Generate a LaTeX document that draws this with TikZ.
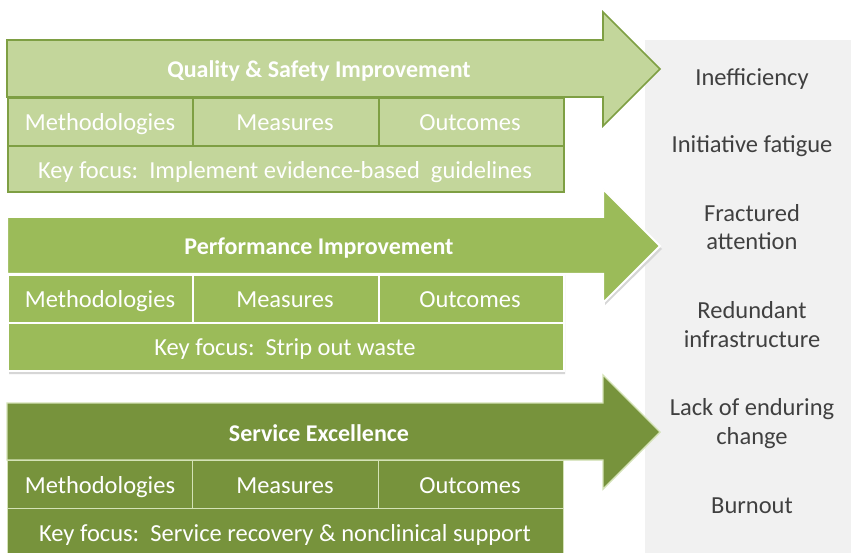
\documentclass[tikz,border=0pt]{standalone}
\usepackage{fontspec}
\setmainfont{Carlito}
\definecolor{gA}{HTML}{C3D69B}
\definecolor{sA}{HTML}{7E9F43}
\definecolor{gB}{HTML}{9BBB59}
\definecolor{gC}{HTML}{77933C}
\definecolor{sC}{HTML}{D4E2B6}
\definecolor{panel}{HTML}{F1F1F1}
\definecolor{dtxt}{HTML}{404040}
\tikzset{
  blkA/.style={fill=gA,draw=sA,line width=1.6pt},
  blkB/.style={fill=gB,draw=white,line width=2pt},
  blkC/.style={fill=gC,draw=sC,line width=1.4pt},
  celltxt/.style={text=white,font=\fontsize{24.5}{28}\selectfont,inner sep=0pt,anchor=base},
  ttl/.style={text=white,font=\bfseries\fontsize{24}{28}\selectfont,inner sep=0pt,anchor=base},
  side/.style={text=dtxt,font=\fontsize{24.5}{28.5}\selectfont,align=center,inner sep=0pt,anchor=base},
  shad/.style={fill=black!16,draw=none}
}
% #1 name, #2 top y, #3 style, #4 title, #5 focus, #6 row3 height
\newcommand\greenblk[6]{%
  \path[#3] (7,#2) -- (603,#2) -- (603,#2+29-57) -- (660,#2+29) -- (603,#2+29+57)
     -- (603,#2+57) -- (7,#2+57) -- cycle;
  \node[ttl] (#1t) at (319,#2+38) {#4};
  \node[#3,anchor=north west,minimum width=185,minimum height=48,inner sep=0pt] (#1m) at (7,#2+57) {};
  \node[#3,anchor=north west,minimum width=186,minimum height=48,inner sep=0pt] (#1s) at (192,#2+57) {};
  \node[#3,anchor=north west,minimum width=185,minimum height=48,inner sep=0pt] (#1o) at (378,#2+57) {};
  \node[#3,anchor=north west,minimum width=556,minimum height=#6,inner sep=0pt] (#1k) at (7,#2+105) {};
  \node[celltxt] (#1mt) at (100,#2+90.5) {Methodologies};
  \node[celltxt] (#1st) at (285,#2+90.5) {Measures};
  \node[celltxt] (#1ot) at (470,#2+90.5) {Outcomes};
  \node[celltxt] (#1kt) at (285,#2+138.5) {#5};
}
\begin{document}
\begin{tikzpicture}[x=1pt,y=-1pt]
\useasboundingbox (0,0) rectangle (851,553);
\clip (0,0) rectangle (851,553);
\fill[white] (0,0) rectangle (851,553);
\fill[panel] (645,40) rectangle (851,553);
% right column
\node[side] (r1) at (752,86) {Inefficiency};
\node[side] (r2) at (752,153) {Initiative fatigue};
\node[side] (r3) at (752,250) {Fractured\\attention};
\node[side] (r4) at (752,347) {Redundant\\infrastructure};
\node[side] (r5) at (752,444) {Lack of enduring\\change};
\node[side] (r6) at (752,513) {Burnout};
% block 1
\greenblk{a}{40}{blkA}{Quality \& Safety Improvement}{Key focus:\ \ Implement evidence-based\ \ guidelines}{46}
% block 2 shadow
\path[shad] (9,220) -- (605,220) -- (605,193) -- (662,249) -- (605,305) -- (605,275) -- (565,275) -- (565,374) -- (9,374) -- cycle;
\greenblk{b}{217}{blkB}{Performance Improvement}{Key focus:\ \ Strip out waste}{48}
% block 3
\greenblk{c}{403}{blkC}{Service Excellence}{Key focus:\ \ Service recovery \& nonclinical support}{60}
\end{tikzpicture}
\end{document}
